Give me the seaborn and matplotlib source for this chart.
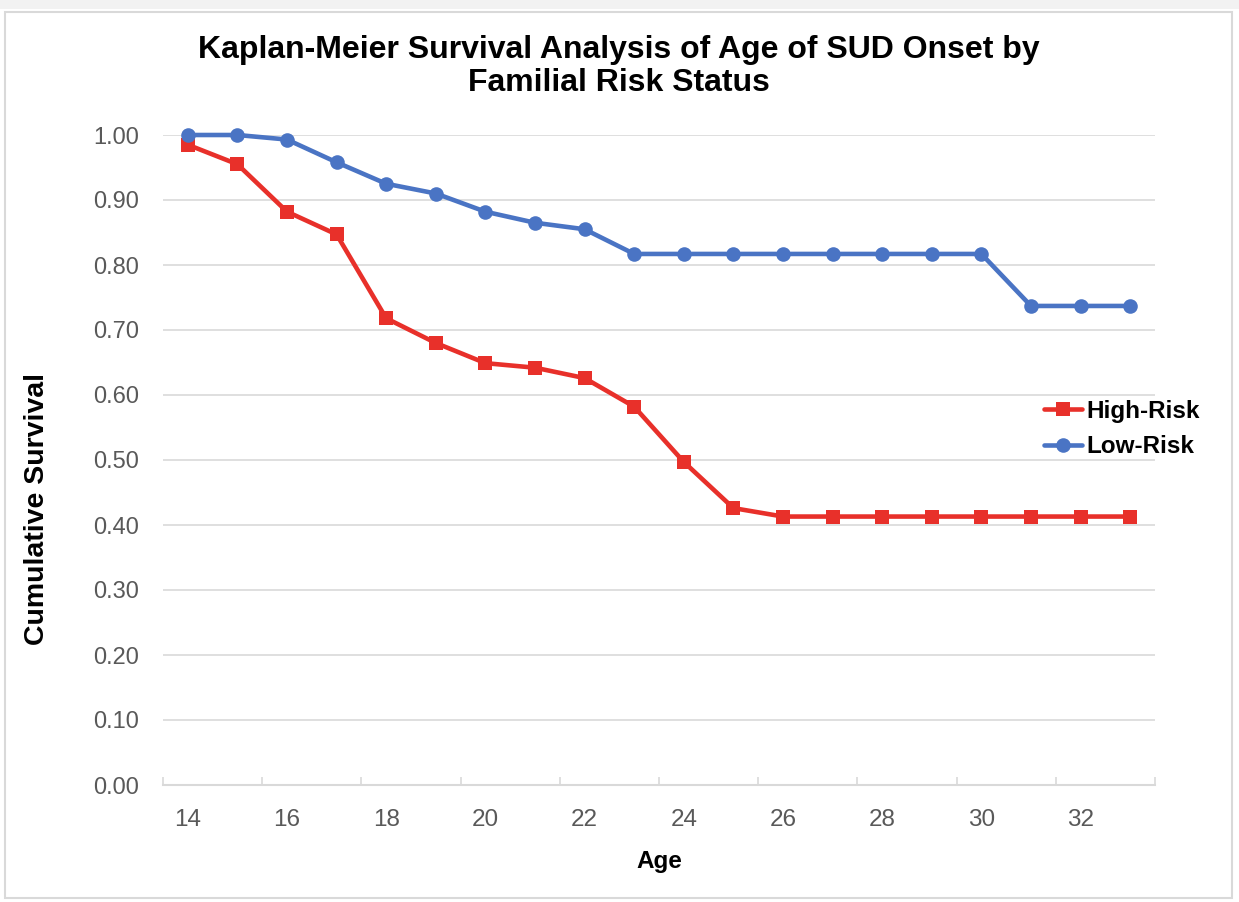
import numpy as np
import pandas as pd
import matplotlib
matplotlib.use("Agg")
import matplotlib.pyplot as plt
from matplotlib.patches import Rectangle
import seaborn as sns

# ========== DATA ==========
ages = list(range(14, 34))
high_risk = [0.985, 0.955, 0.882, 0.847, 0.718, 0.680, 0.649, 0.642, 0.626, 0.582,
             0.497, 0.426, 0.413, 0.413, 0.413, 0.413, 0.413, 0.413, 0.413, 0.413]
low_risk = [1.000, 1.000, 0.993, 0.958, 0.925, 0.910, 0.882, 0.865, 0.855, 0.817,
            0.817, 0.817, 0.817, 0.817, 0.817, 0.817, 0.817, 0.737, 0.737, 0.737]
groups = ["High-Risk", "Low-Risk"]
colors = {"High-Risk": "#E8302A", "Low-Risk": "#4A74C4"}
markers = {"High-Risk": "s", "Low-Risk": "o"}
y_ticks = [0.0, 0.1, 0.2, 0.3, 0.4, 0.5, 0.6, 0.7, 0.8, 0.9, 1.0]
x_labels = [14, 16, 18, 20, 22, 24, 26, 28, 30, 32]

df = pd.DataFrame({
    "Age": ages * 2,
    "Survival": high_risk + low_risk,
    "Group": ["High-Risk"] * len(ages) + ["Low-Risk"] * len(ages),
})

# ========== STYLE ==========
sns.set_theme(style="white")
plt.rcParams["font.family"] = ["Liberation Sans", "DejaVu Sans"]
plt.rcParams["text.color"] = "black"

fig = plt.figure(figsize=(12.39, 9.02), dpi=100)
fig.patch.set_facecolor("white")
ax = fig.add_axes([163 / 1239, 1 - 785 / 902, (1155 - 163) / 1239, (785 - 135) / 902])

# screenshot frame
fig.patches.append(Rectangle((0, 1 - 9 / 902), 1, 9 / 902, transform=fig.transFigure,
                             facecolor="#F2F2F2", edgecolor="none", zorder=0))
fig.patches.append(Rectangle((5 / 1239, 4 / 902), 1227 / 1239, (898 - 12) / 902,
                             transform=fig.transFigure, facecolor="none",
                             edgecolor="#D9D9D9", linewidth=1.5, zorder=0))

sns.lineplot(data=df, x="Age", y="Survival", hue="Group", style="Group",
             hue_order=groups, style_order=groups, palette=colors,
             markers=markers, dashes=False, errorbar=None, legend=False,
             linewidth=3.3, markersize=10.5, markeredgewidth=0, ax=ax)
for ln in ax.lines:
    ln.set_clip_on(False)

ax.set_ylim(0, 1.0)
ax.set_xlim(13.5, 33.5)
ax.set_yticks(y_ticks)
ax.set_yticklabels([f"{v:.2f}" for v in y_ticks], fontsize=17, color="#595959")
ax.yaxis.grid(True, color="#D9D9D9", linewidth=1.2)
ax.set_axisbelow(True)

# category axis: tick marks at boundaries, labels at centres
ax.set_xticks(np.arange(13.5, 34, 2))
ax.set_xticklabels([])
ax.set_xticks(x_labels, minor=True)
ax.set_xticklabels([str(v) for v in x_labels], minor=True, fontsize=17.5,
                   color="#595959")
ax.tick_params(axis="x", which="major", direction="in", length=6, width=1.2,
               color="#D9D9D9", bottom=True)
ax.tick_params(axis="x", which="minor", length=0, pad=17)
ax.tick_params(axis="y", length=0, pad=17)

for s in ["top", "right", "left"]:
    ax.spines[s].set_visible(False)
ax.spines["bottom"].set_color("#D9D9D9")
ax.spines["bottom"].set_linewidth(1.5)

ax.set_xlabel("Age", fontsize=17.5, fontweight="bold", color="black", labelpad=14)
ax.set_ylabel("Cumulative Survival", fontsize=20.5, fontweight="bold", color="black")
ax.yaxis.set_label_coords((50 - 163) / 992, (785 - 509) / 650)

fig.suptitle("Kaplan-Meier Survival Analysis of Age of SUD Onset by\nFamilial Risk Status",
             x=619 / 1239, y=1 - 35 / 902, va="top", fontsize=23, color="black",
             fontweight="bold", linespacing=1.12)

handles = ax.lines[:2]
fig.legend(handles, groups, loc="center left",
           bbox_to_anchor=(1044 / 1239, 1 - 429 / 902), frameon=False,
           prop={"weight": "bold", "size": 17.5}, handlelength=1.55,
           handletextpad=0.2, labelspacing=0.5, borderpad=0, borderaxespad=0)

fig.savefig("out.png", dpi=100, facecolor="white")
